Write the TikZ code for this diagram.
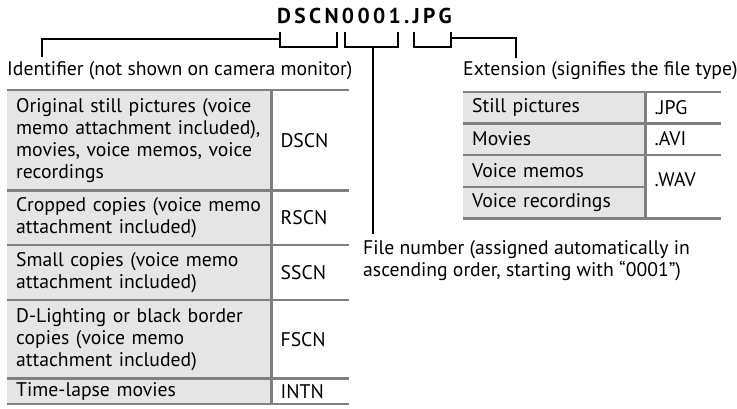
\documentclass[tikz,border=0pt]{standalone}
\usepackage{fontspec}
\setmainfont{PT Sans}
\newfontfamily\titlefont[LetterSpace=15.5]{PT Sans}
\usetikzlibrary{positioning}
\definecolor{cellGray}{gray}{0.90}
\definecolor{ruleGray}{gray}{0.50}
\newcommand{\bodysize}{\fontsize{19.7}{22}\selectfont}

\begin{document}
\begin{tikzpicture}[x=1pt, y=-1pt,
      node distance=0pt,
      txt/.style={font=\bodysize, inner sep=0pt, align=left},
      cell/.style={fill=cellGray, inner xsep=9pt, inner ysep=0pt,
                   minimum height=#1, align=left, font=\bodysize},
      code/.style={inner xsep=9pt, inner ysep=0pt,
                   minimum height=#1, align=left, font=\bodysize},
      rule/.style={draw=ruleGray, line width=2.5pt},
      link/.style={draw=black, line width=1.8pt}]
    \useasboundingbox (0,0) rectangle (737,408);
    % file name
    \node[font=\titlefont\bfseries\fontsize{21.5}{24}\selectfont, inner sep=0pt,
          anchor=base west] (fname) at (277,23) {DSCN0001.JPG};
    \draw[link] (280,32) |- (337,47) -- (337,32);
    \draw[link] (345,32) |- (398,47) -- (398,32);
    \draw[link] (414,32) |- (451,47) -- (451,32);
    \coordinate (idtap) at (280,39);
    \coordinate (idfoot) at (42,57);
    \coordinate (numtap) at (373,47);
    \coordinate (exttap) at (451,38);
    \coordinate (extfoot) at (516,58);
    % labels
    \node[txt, anchor=base west] (idlabel) at (7,75) {Identifier (not shown on camera monitor)};
    \node[txt, anchor=base west] (extlabel) at (463,75) {Extension (signifies the file type)};
    \node[txt, anchor=north west] (numlabel) at (363,240)
      {File number (assigned automatically in\\ascending order, starting with “0001”)};
    \draw[link] (idtap) -| (idfoot);
    \draw[link] (exttap) -| (extfoot);
    \draw[link, shorten >=6pt] (numtap) -- (numtap |- numlabel.north);
    % identifier table
    \node[cell=100pt, text width=246pt, anchor=north west] (orig) at (7,90)
      {Original still pictures (voice\\memo attachment included),\\movies, voice memos, voice\\recordings};
    \node[code=100pt, text width=59pt, right=of orig] (dscn) {DSCN};
    \node[cell=54pt, text width=246pt, below=of orig] (crop)
      {Cropped copies (voice memo\\attachment included)};
    \node[code=54pt, text width=59pt, right=of crop] (rscn) {RSCN};
    \node[cell=55pt, text width=246pt, below=of crop] (small)
      {Small copies (voice memo\\attachment included)};
    \node[code=55pt, text width=59pt, right=of small] (sscn) {SSCN};
    \node[cell=78pt, text width=246pt, below=of small] (dlight)
      {D-Lighting or black border\\copies (voice memo\\attachment included)};
    \node[code=78pt, text width=59pt, right=of dlight] (fscn) {FSCN};
    \node[cell=25pt, text width=246pt, below=of dlight] (tlapse) {Time-lapse movies};
    \node[code=25pt, text width=59pt, right=of tlapse] (intn) {INTN};
    \draw[rule] (orig.north west) -- (dscn.north east);
    \draw[rule] (crop.north west) -- (rscn.north east);
    \draw[rule] (small.north west) -- (sscn.north east);
    \draw[rule] (dlight.north west) -- (fscn.north east);
    \draw[rule] (tlapse.north west) -- (intn.north east);
    \draw[rule] (tlapse.south west) -- (intn.south east);
    \draw[rule] (dscn.north west) -- (intn.south west);
    % extension table
    \node[cell=31pt, text width=164pt, anchor=north west] (still) at (463,92) {Still pictures};
    \node[code=31pt, text width=57pt, right=of still] (jpg) {.JPG};
    \node[cell=31pt, text width=164pt, below=of still] (movies) {Movies};
    \node[code=31pt, text width=57pt, right=of movies] (avi) {.AVI};
    \node[cell=32pt, text width=164pt, below=of movies] (memos) {Voice memos};
    \node[cell=31pt, text width=164pt, below=of memos] (recs) {Voice recordings};
    \node[code=63pt, text width=57pt, below=of avi, yshift=7pt] (wav) {.WAV};
    \draw[rule] (still.north west) -- (jpg.north east);
    \draw[rule] (movies.north west) -- (avi.north east);
    \draw[rule] (memos.north west) -- (memos.north west -| avi.east);
    \draw[rule] (recs.north west) -- (recs.north east);
    \draw[rule] (recs.south west) -- (recs.south -| avi.east);
    \draw[rule] (jpg.north west) -- (jpg.west |- recs.south);
\end{tikzpicture}
\end{document}
